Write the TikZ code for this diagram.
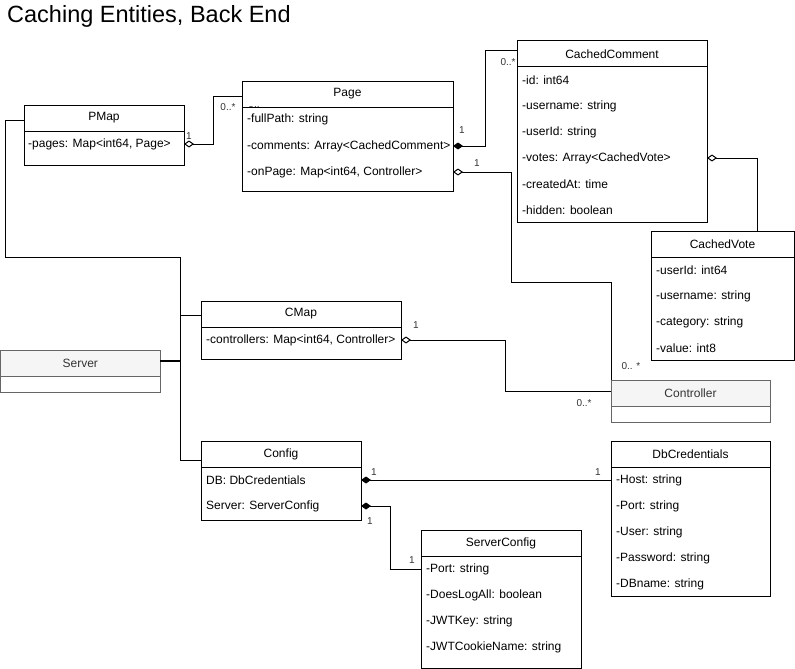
\documentclass[tikz,border=0pt]{standalone}
\usepackage{fontspec}
\setmainfont{Liberation Sans}
\usetikzlibrary{arrows.meta,calc}
\definecolor{hdrgray}{HTML}{F5F5F5}
\definecolor{edgegray}{HTML}{666666}
\definecolor{txtgray}{HTML}{333333}
% #1 name, #2 x, #3 y, #4 w, #5 h, #6 title
\newcommand{\UmlBox}[6]{%
  \node[box, minimum width=#4pt, minimum height=#5pt, anchor=north west] (#1) at (#2,#3) {};
  \draw[boxline] (#2,#3+26) -- (#2+#4,#3+26);
  \node[ttl] at (#2+#4/2,#3+13) {#6};
}
\newcommand{\UmlGrayBox}[6]{%
  \node[box, draw=edgegray, minimum width=#4pt, minimum height=#5pt, anchor=north west] (#1) at (#2,#3) {};
  \filldraw[fill=hdrgray, draw=edgegray, line width=1pt] (#2,#3) rectangle (#2+#4,#3+26);
  \node[ttl, text=txtgray] at (#2+#4/2,#3+13) {#6};
}
% #1 name, #2 x, #3 y, #4 text
\newcommand{\UmlRow}[4]{\node[attr] (#1) at (#2,#3) {#4};}
\begin{document}
\begin{tikzpicture}[x=1pt,y=-1pt,
  box/.style={draw=black, fill=white, inner sep=0pt, outer sep=0pt, line width=1pt},
  boxline/.style={draw=black, line width=1pt},
  ttl/.style={font=\fontsize{12}{14}\selectfont, inner sep=0pt, anchor=center},
  attr/.style={font=\fontsize{12}{14}\selectfont, inner sep=0pt, anchor=west},
  lbl/.style={font=\fontsize{10}{12}\selectfont, inner sep=0pt, anchor=center, text=txtgray},
  conn/.style={draw=black, line width=1pt},
  aggr/.style={conn, {Diamond[length=10pt,width=7pt,fill=white,line width=1pt]}-},
  comp/.style={conn, {Diamond[length=10pt,width=7pt,line width=1pt]}-},
]
\useasboundingbox (0,0) rectangle (795,669);

% title
\node[anchor=west, inner sep=0pt, font=\fontsize{23.5}{27}\selectfont] (title) at (7,16) {Caching Entities, Back End};

% ---------- boxes ----------
\UmlBox{pmap}{24}{105}{160}{60}{PMap}
\UmlRow{pmapPages}{28}{144}{-pages: Map<int64, Page>}

\UmlBox{page}{242}{81}{211}{110}{Page}
\UmlRow{pgPath}{247}{119}{-fullPath: string}
\UmlRow{pgComments}{247}{146}{-comments: Array<CachedComment>}
\UmlRow{pgOnPage}{247}{172}{-onPage: Map<int64, Controller>}

\UmlBox{cc}{517}{41}{190}{181}{CachedComment}
\UmlRow{ccId}{522}{80}{-id: int64}
\UmlRow{ccUser}{522}{106}{-username: string}
\UmlRow{ccUid}{522}{132}{-userId: string}
\UmlRow{ccVotes}{522}{158}{-votes: Array<CachedVote>}
\UmlRow{ccCreated}{522}{184}{-createdAt: time}
\UmlRow{ccHidden}{522}{210}{-hidden: boolean}

\UmlBox{cv}{651}{231}{143}{129}{CachedVote}
\UmlRow{cvUid}{656}{270}{-userId: int64}
\UmlRow{cvUser}{656}{296}{-username: string}
\UmlRow{cvCat}{656}{322}{-category: string}
\UmlRow{cvVal}{656}{348}{-value: int8}

\UmlBox{cmap}{201}{301}{200}{58}{CMap}
\UmlRow{cmapCtrl}{206}{340}{-controllers: Map<int64, Controller>}

\UmlGrayBox{server}{0.5}{350}{159.5}{42}{Server}
\UmlGrayBox{ctrl}{611}{380}{159}{42}{Controller}

\UmlBox{config}{201}{441}{160}{79}{Config}
\UmlRow{cfgDB}{206}{480}{DB: DbCredentials}
\UmlRow{cfgServer}{206}{506}{Server: ServerConfig}

\UmlBox{dbc}{611}{441}{159}{155}{DbCredentials}
\UmlRow{dbHost}{616}{480}{-Host: string}
\UmlRow{dbPort}{616}{506}{-Port: string}
\UmlRow{dbUser}{616}{532}{-User: string}
\UmlRow{dbPass}{616}{558}{-Password: string}
\UmlRow{dbName}{616}{584}{-DBname: string}

\UmlBox{sc}{421}{530}{160}{138}{ServerConfig}
\UmlRow{scPort}{426}{569}{-Port: string}
\UmlRow{scLog}{426}{595}{-DoesLogAll: boolean}
\UmlRow{scKey}{426}{621}{-JWTKey: string}
\UmlRow{scCookie}{426}{647}{-JWTCookieName: string}

% clipped stray label inside Page
\begin{scope}
  \clip (243,106.5) rectangle (300,115);
  \node[lbl] (pgStray) at (254,104) {0..};
\end{scope}

% ---------- bus from Server ----------
\coordinate (busTop) at (180,257);
\coordinate (busBot) at (180,460);
\coordinate (leftTop) at (5,257);
\draw[conn] (pmap.west |- 0,120) -| (leftTop) -- (busTop) -- (busBot) -- (config.west |- busBot);
\draw[conn] (busTop |- 0,315) -- (cmap.west |- 0,315);
\draw[draw=black, line width=2.2pt] (server.east |- 0,361) -- (busTop |- 0,361);

% ---------- associations ----------
\draw[aggr] (pmap.east |- pmapPages) -- (213,144) |- (page.west |- 0,96);
\node[lbl] (l1) at (189,136) {1};
\node[lbl] (l2) at (228,107) {0..*};

\draw[comp] (page.east |- pgComments) -- (485,146) |- (cc.west |- 0,51);
\node[lbl] (l3) at (462,130) {1};
\node[lbl] (l4) at (508,62) {0..*};

\draw[aggr] (page.east |- pgOnPage) -- (511,172) |- (611,282) -- (ctrl.north west);
\node[lbl] (l5) at (477,163) {1};
\node[lbl] (l6) at (631,366) {0.. *};

\draw[aggr] (cc.east |- ccVotes) -- (757,158) -- (cv.north -| 757,0);

\draw[aggr] (cmap.east |- cmapCtrl) -- (505,340) |- (ctrl.west |- 0,391);
\node[lbl] (l7) at (416,325) {1};
\node[lbl] (l8) at (584,403) {0..*};

\draw[comp] (config.east |- cfgDB) -- (dbc.west |- cfgDB);
\node[lbl] (l9) at (374,472) {1};
\node[lbl] (l10) at (598,472) {1};

\draw[comp] (config.east |- cfgServer) -- (390,506) |- (sc.west |- scPort);
\node[lbl] (l11) at (370,521) {1};
\node[lbl] (l12) at (412,560) {1};
\end{tikzpicture}
\end{document}
